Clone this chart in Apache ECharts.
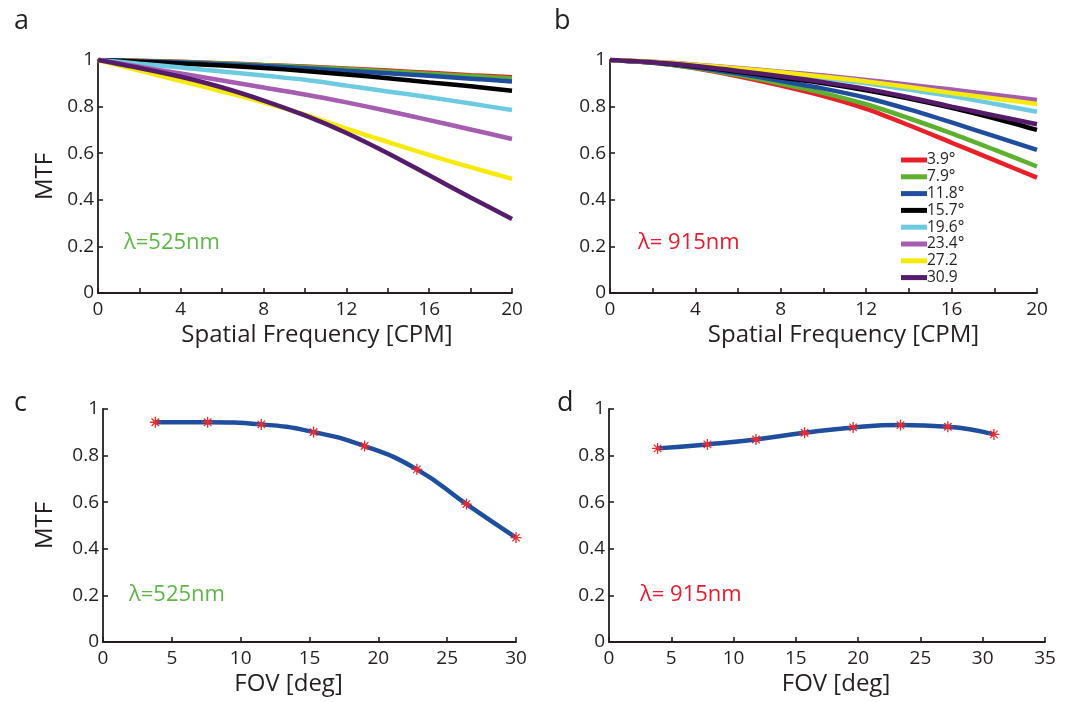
<!DOCTYPE html>
<html>
<head>
<meta charset="utf-8">
<script src="https://cdn.jsdelivr.net/npm/echarts@6/dist/echarts.min.js"></script>
<style>
html,body{margin:0;padding:0;background:#fff;}
#chart{width:1071px;height:702px;}
</style>
</head>
<body>
<div id="chart"></div>
<script>
// ---- data ----
const freq = [0, 2, 4, 6, 8, 10, 12, 14, 16, 18, 20];
const fovNames = ['3.9°', '7.9°', '11.8°', '15.7°', '19.6°', '23.4°', '27.2', '30.9'];
const fovColors = ['#e8202a', '#5db12e', '#1f4e9e', '#000000', '#6ccbe0', '#a65cb0', '#f6ea0c', '#561b6b'];

// panel a: lambda = 525 nm
const mtf525_39 = [1, .997, .992, .986, .979, .972, .964, .955, .945, .935, .926];
const mtf525_79 = [1, .996, .991, .985, .978, .970, .961, .951, .941, .931, .921];
const mtf525_118 = [1, .995, .989, .982, .974, .965, .954, .943, .932, .920, .908];
const mtf525_157 = [1, .993, .985, .976, .966, .953, .938, .922, .904, .887, .868];
const mtf525_196 = [1, .984, .968, .951, .933, .915, .890, .865, .840, .813, .785];
const mtf525_234 = [1, .971, .942, .912, .882, .852, .818, .781, .742, .702, .661];
const mtf525_272 = [1, .955, .910, .865, .818, .765, .705, .648, .592, .540, .490];
const mtf525_309 = [1, .966, .928, .882, .826, .762, .687, .600, .505, .410, .318];

// panel b: lambda = 915 nm
const mtf915_39 = [1, .988, .964, .930, .890, .845, .790, .720, .645, .570, .495];
const mtf915_79 = [1, .988, .966, .935, .898, .858, .810, .750, .685, .615, .543];
const mtf915_118 = [1, .989, .969, .942, .910, .877, .838, .788, .732, .673, .614];
const mtf915_157 = [1, .990, .972, .950, .925, .900, .870, .835, .795, .750, .700];
const mtf915_196 = [1, .991, .977, .960, .942, .922, .900, .873, .845, .812, .778];
const mtf915_234 = [1, .992, .980, .966, .950, .933, .914, .894, .873, .851, .828];
const mtf915_272 = [1, .992, .979, .964, .947, .928, .908, .884, .858, .835, .811];
const mtf915_309 = [1, .990, .974, .953, .930, .905, .876, .840, .800, .762, .724];

// panel c: MTF vs FOV at 525 nm
const fovC = [3.8, 7.6, 11.5, 15.3, 19.0, 22.8, 26.4, 30.0];
const mtfC = [0.943, 0.943, 0.934, 0.901, 0.841, 0.741, 0.592, 0.448];
// panel d: MTF vs FOV at 915 nm
const fovD = [3.9, 7.9, 11.8, 15.7, 19.6, 23.4, 27.2, 30.9];
const mtfD = [0.831, 0.848, 0.869, 0.898, 0.921, 0.931, 0.924, 0.891];

const panelA = [mtf525_39, mtf525_79, mtf525_118, mtf525_157, mtf525_196, mtf525_234, mtf525_272, mtf525_309];
const panelB = [mtf915_39, mtf915_79, mtf915_118, mtf915_157, mtf915_196, mtf915_234, mtf915_272, mtf915_309];

// ---- chart ----
const FONT = '"Open Sans", "DejaVu Sans", sans-serif';
const TXT = '#231f20';
const pair = (xs, ys) => xs.map((x, i) => [x, ys[i]]);

function xAx(gi, max, interval, labelEvery, name, shift) {
  return {
    type: 'value', gridIndex: gi, min: 0, max: max, interval: interval,
    axisLine: {lineStyle: {color: TXT, width: 1.8}},
    axisTick: {inside: true, length: 5, lineStyle: {color: TXT, width: 1.6}},
    splitLine: {show: false},
    axisLabel: {
      color: TXT, fontSize: 19, fontFamily: FONT, margin: 7,
      formatter: v => (Math.round(v) % labelEvery === 0 ? String(Math.round(v)) : '')
    },
    name: name, nameLocation: 'middle', nameGap: 30,
    nameTextStyle: {color: TXT, fontSize: 24, fontFamily: FONT,
      padding: shift >= 0 ? [0, 0, 0, 2 * shift] : [0, -2 * shift, 0, 0]}
  };
}
function yAx(gi, name, gap) {
  return {
    type: 'value', gridIndex: gi, min: 0, max: 1, interval: 0.2,
    axisLine: {show: true, lineStyle: {color: TXT, width: 1.8}},
    axisTick: {show: true, inside: true, length: 5, lineStyle: {color: TXT, width: 1.6}},
    splitLine: {show: false},
    axisLabel: {
      color: TXT, fontSize: 19, fontFamily: FONT, margin: 4,
      formatter: v => (v === 0 ? '0' : (Math.abs(v - 1) < 1e-9 ? '1' : v.toFixed(1)))
    },
    name: name, nameLocation: 'middle', nameGap: gap, nameRotate: 90,
    nameTextStyle: {color: TXT, fontSize: 24, fontFamily: FONT}
  };
}

const series = [];
panelA.forEach((ys, i) => {
  series.push({type: 'line', name: fovNames[i], xAxisIndex: 0, yAxisIndex: 0,
    data: pair(freq, ys), smooth: 0.3, showSymbol: false, color: fovColors[i],
    lineStyle: {width: 4.5, color: fovColors[i]}, z: 2 + i});
});
panelB.forEach((ys, i) => {
  series.push({type: 'line', name: fovNames[i], xAxisIndex: 1, yAxisIndex: 1,
    data: pair(freq, ys), smooth: 0.3, showSymbol: false, color: fovColors[i],
    lineStyle: {width: 4.5, color: fovColors[i]}, z: 2 + i});
});
const star = 'path://M4.4,0H5.6V10H4.4Z M0,4.4H10V5.6H0Z M1.2,2L2,1.2L8.8,8L8,8.8Z M8,1.2L8.8,2L2,8.8L1.2,8Z';
[[fovC, mtfC, 2], [fovD, mtfD, 3]].forEach(([xs, ys, gi]) => {
  series.push({type: 'line', name: 'MTF ' + gi, xAxisIndex: gi, yAxisIndex: gi,
    data: pair(xs, ys), smooth: true, symbol: star, symbolSize: 11, showSymbol: true,
    itemStyle: {color: '#ee2a2f'}, lineStyle: {width: 4.5, color: '#1f4e9e'}, z: 5});
});

const chart = echarts.init(document.getElementById('chart'), null, {renderer: 'canvas'});
chart.setOption({
  backgroundColor: '#ffffff',
  animation: false,
  grid: [
    {left: 98, top: 60, width: 414, height: 233},
    {left: 610, top: 60, width: 427, height: 233},
    {left: 103, top: 409, width: 413, height: 233},
    {left: 609, top: 409, width: 436, height: 233}
  ],
  xAxis: [
    xAx(0, 20, 2, 4, 'Spatial Frequency [CPM]', 12),
    xAx(1, 20, 2, 4, 'Spatial Frequency [CPM]', 20),
    xAx(2, 30, 5, 5, 'FOV [deg]', -21),
    xAx(3, 35, 5, 5, 'FOV [deg]', 9)
  ],
  yAxis: [yAx(0, 'MTF', 41), yAx(1, '', 40), yAx(2, 'MTF', 46), yAx(3, '', 40)],
  legend: {
    data: fovNames, orient: 'vertical', left: 896, top: 147,
    icon: 'rect', itemWidth: 26, itemHeight: 5, itemGap: 0.8,
    textStyle: {color: TXT, fontSize: 15.5, fontFamily: FONT, lineHeight: 15, padding: [0, 0, 0, -5]},
    selectedMode: false
  },
  graphic: [
    {type: 'text', left: 14, top: 8, style: {text: 'a', fontSize: 27, fontFamily: FONT, fill: TXT}},
    {type: 'text', left: 554, top: 8, style: {text: 'b', fontSize: 27, fontFamily: FONT, fill: TXT}},
    {type: 'text', left: 14, top: 390, style: {text: 'c', fontSize: 27, fontFamily: FONT, fill: TXT}},
    {type: 'text', left: 557, top: 390, style: {text: 'd', fontSize: 27, fontFamily: FONT, fill: TXT}},
    {type: 'text', left: 124, top: 232, style: {text: 'λ=525nm', fontSize: 22, fontFamily: FONT, fill: '#5db646'}},
    {type: 'text', left: 638, top: 232, style: {text: 'λ= 915nm', fontSize: 22, fontFamily: FONT, fill: '#e8192c'}},
    {type: 'text', left: 129, top: 584, style: {text: 'λ=525nm', fontSize: 22, fontFamily: FONT, fill: '#5db646'}},
    {type: 'text', left: 640, top: 584, style: {text: 'λ= 915nm', fontSize: 22, fontFamily: FONT, fill: '#e8192c'}}
  ],
  series: series
});
</script>
</body>
</html>
